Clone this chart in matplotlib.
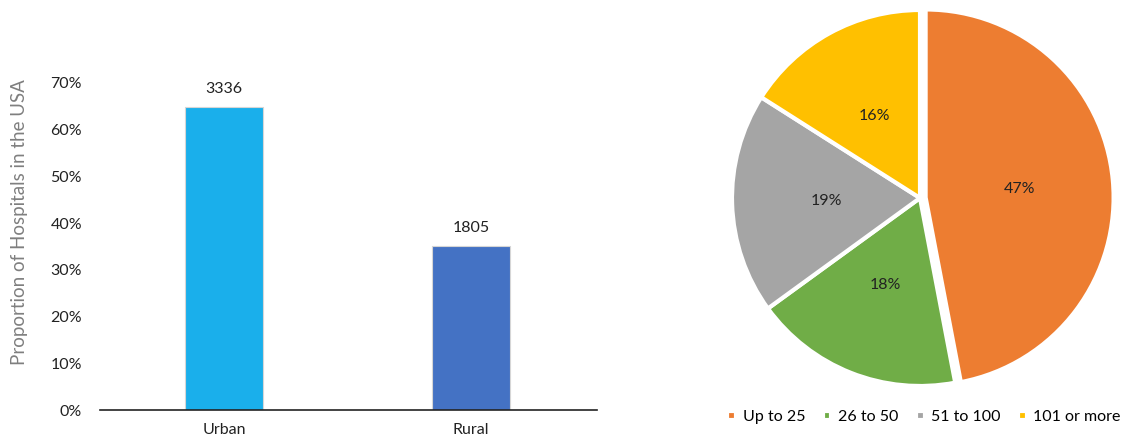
import numpy as np
import matplotlib.pyplot as plt
from matplotlib.ticker import PercentFormatter

plt.rcParams["font.family"] = ["Lato", "DejaVu Sans"]

########## DATA ##########
areas = ["Urban", "Rural"]
hospital_counts = [3336, 1805]
area_share = [64.9, 35.1]  # percent of hospitals
area_colors = ["#1AAFEB", "#4472C4"]

size_groups = ["Up to 25", "26 to 50", "51 to 100", "101 or more"]
size_share = [47, 18, 19, 16]
size_colors = ["#ED7D31", "#70AD47", "#A5A5A5", "#FFC000"]
###### END DATA ##########

W, H = 1123, 442
fig = plt.figure(figsize=(W / 100, H / 100), dpi=100)

# bar chart: urban vs rural
bar_ax = fig.add_axes([100 / W, 1 - 410 / H, 497 / W, 327 / H])
x = np.arange(len(areas))
bars = bar_ax.bar(x, area_share, width=0.316, color=area_colors,
                  edgecolor="#d6d6d6", linewidth=0.8, zorder=2)
for rect, n in zip(bars, hospital_counts):
    bar_ax.text(rect.get_x() + rect.get_width() / 2, rect.get_height() + 2.3,
                str(n), ha="center", va="bottom", fontsize=11.5, color="#222222")

bar_ax.set_xlim(-0.502, 1.51)
bar_ax.set_ylim(0, 70)
bar_ax.set_yticks(np.arange(0, 71, 10))
bar_ax.yaxis.set_major_formatter(PercentFormatter(decimals=0))
bar_ax.set_xticks(x)
bar_ax.set_xticklabels(areas)
bar_ax.tick_params(axis="both", length=0, labelsize=11.5, colors="#222222")
bar_ax.tick_params(axis="x", pad=9)
bar_ax.tick_params(axis="y", pad=13)
for side in ["top", "right", "left"]:
    bar_ax.spines[side].set_visible(False)
bar_ax.spines["bottom"].set_color("#222222")
bar_ax.spines["bottom"].set_linewidth(1.2)
bar_ax.set_ylabel("Proportion of Hospitals in the USA", fontsize=13.5,
                  color="#7f7f7f")
bar_ax.yaxis.set_label_coords(-0.145, 0.576)

# pie chart: hospital size
r = 188 * 1.04
pie_ax = fig.add_axes([(920 - r) / W, 1 - (198 + r) / H, 2 * r / W, 2 * r / H])
wedges, texts, autotexts = pie_ax.pie(
    size_share, colors=size_colors, startangle=90, counterclock=False,
    explode=[0.03, 0, 0, 0], autopct="%.0f%%", pctdistance=0.5,
    wedgeprops=dict(edgecolor="white", linewidth=3),
    textprops=dict(fontsize=11.5, color="#222222"))
pie_ax.set_xlim(-1.04, 1.04)
pie_ax.set_ylim(-1.04, 1.04)
pie_ax.set_aspect("equal")

fig.legend(wedges, size_groups, loc="center", bbox_to_anchor=(924 / W, 1 - 417 / H),
           ncol=4, frameon=False, fontsize=11.5, handlelength=0.55, handleheight=0.55,
           handletextpad=0.4, columnspacing=1.1)

plt.savefig("out.png", dpi=100)
